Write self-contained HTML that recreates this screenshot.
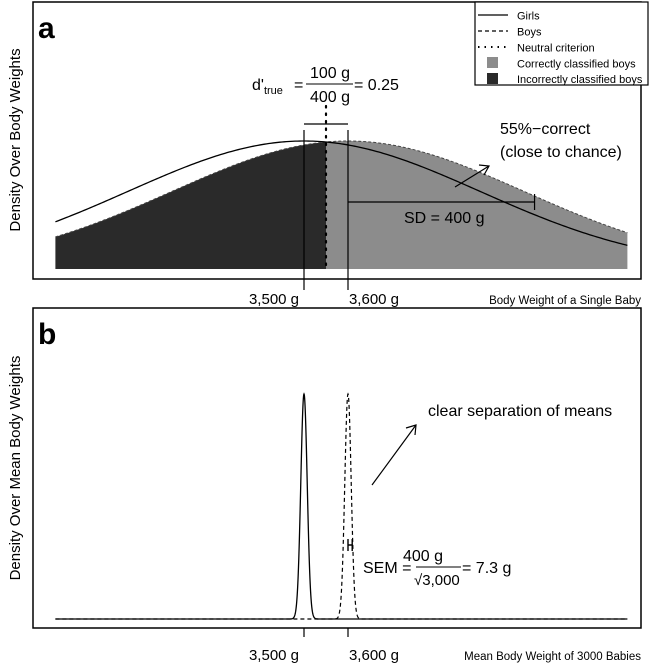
<!DOCTYPE html>
<html><head><meta charset="utf-8">
<style>
html,body{margin:0;padding:0;background:#fff;}
svg{display:block;font-family:"Liberation Sans",Arial,sans-serif;}
</style></head>
<body>
<svg id="chart" width="650" height="666" viewBox="0 0 650 666">
<g id="panelA">
  <rect x="33" y="2" width="608" height="277" fill="none" stroke="#000" stroke-width="1.5"/>
  <text x="38" y="38" font-size="30" font-weight="bold">a</text>
  <text transform="translate(20,140) rotate(-90)" text-anchor="middle" font-size="15">Density Over Body Weights</text>
  <g id="fillA"></g>
  <g id="curvesA"></g>
  <text x="274" y="304" text-anchor="middle" font-size="15">3,500 g</text>
  <text x="374" y="304" text-anchor="middle" font-size="15">3,600 g</text>
  <text x="641" y="304" text-anchor="end" font-size="11.5">Body Weight of a Single Baby</text>
  <g>
    <text x="252" y="90" font-size="16">d'<tspan font-size="11" dy="4">true</tspan></text>
    <text x="294" y="90" font-size="16">=</text>
    <text x="330" y="78" text-anchor="middle" font-size="16">100 g</text>
    <line x1="306" y1="84" x2="353" y2="84" stroke="#000" stroke-width="1"/>
    <text x="330" y="102" text-anchor="middle" font-size="16">400 g</text>
    <text x="354" y="90" font-size="16">= 0.25</text>
  </g>
  <text x="500" y="134" font-size="16">55%−correct</text>
  <text x="500" y="157" font-size="16">(close to chance)</text>
  <g stroke="#000" stroke-width="1.2" fill="none">
    <line x1="455" y1="187" x2="489" y2="166"/>
    <polyline points="479,165 489,166 484,175"/>
  </g>
  <text x="404" y="223" font-size="16">SD = 400 g</text>
  <g id="legend">
    <rect x="475" y="2" width="173" height="83" fill="#fff" stroke="#000" stroke-width="1.2"/>
    <line x1="478" y1="15" x2="508" y2="15" stroke="#000" stroke-width="1.2"/>
    <text x="517" y="19.5" font-size="11">Girls</text>
    <line x1="478" y1="31" x2="508" y2="31" stroke="#000" stroke-width="1.2" stroke-dasharray="4,3"/>
    <text x="517" y="35.5" font-size="11">Boys</text>
    <line x1="478" y1="47" x2="508" y2="47" stroke="#000" stroke-width="2" stroke-dasharray="1.5,5"/>
    <text x="517" y="51.5" font-size="11">Neutral criterion</text>
    <rect x="487" y="57" width="11" height="11" fill="#8c8c8c"/>
    <text x="517" y="67.5" font-size="11">Correctly classified boys</text>
    <rect x="487" y="73" width="11" height="11" fill="#2a2a2a"/>
    <text x="517" y="83" font-size="11">Incorrectly classified boys</text>
  </g>
</g>
<g id="panelB">
  <rect x="33" y="308" width="608" height="320" fill="none" stroke="#000" stroke-width="1.5"/>
  <text x="38" y="344" font-size="30" font-weight="bold">b</text>
  <text transform="translate(20,468) rotate(-90)" text-anchor="middle" font-size="15">Density Over Mean Body Weights</text>
  <g id="curvesB"></g>
  <text x="274" y="660" text-anchor="middle" font-size="15">3,500 g</text>
  <text x="374" y="660" text-anchor="middle" font-size="15">3,600 g</text>
  <text x="641" y="660" text-anchor="end" font-size="11.5">Mean Body Weight of 3000 Babies</text>
  <text x="428" y="416" font-size="16">clear separation of means</text>
  <g stroke="#000" stroke-width="1.2" fill="none">
    <line x1="372" y1="485" x2="416" y2="425"/>
    <polyline points="406,428 416,425 415,435"/>
  </g>
  <g>
    <text x="363" y="573" font-size="16">SEM =</text>
    <text x="423" y="561" text-anchor="middle" font-size="16">400 g</text>
    <line x1="416" y1="567" x2="461" y2="567" stroke="#000"/>
    <text x="414" y="585" font-size="15">√3,000</text>
    <text x="462" y="573" font-size="16">= 7.3 g</text>
  </g>
</g>
</svg>
<script>
const groupMeans = [3500, 3600];      // girls, boys (g)
const sdWeight = 400;                 // SD of single baby weight
const sampleSize = 3000;
const xRange = [2935, 4235];
const criterion = 3550;
const tickValues = [3500, 3600];

const NS = "http://www.w3.org/2000/svg";
function xs(v){ return 304 + (v - 3500) * 0.44; }
function gauss(v, m, s){ const z=(v-m)/s; return Math.exp(-z*z/2); }
function yA(d){ return 269 - d * 128; }
function yB(d){ return 619 - d * 225; }
function mk(tag, attrs, parent){ const e=document.createElementNS(NS,tag); for(const k in attrs) e.setAttribute(k,attrs[k]); parent.appendChild(e); return e; }

const fillA = document.getElementById('fillA');
const curvesA = document.getElementById('curvesA');
function areaPath(a, b){
  let d = `M${xs(a)},269`;
  for(let v=a; v<=b; v+=5) d += ` L${xs(v)},${yA(gauss(v,groupMeans[1],sdWeight))}`;
  d += ` L${xs(b)},${yA(gauss(b,groupMeans[1],sdWeight))} L${xs(b)},269 Z`;
  return d;
}
const incorrect = mk('path',{d:areaPath(xRange[0],criterion),fill:'#2a2a2a'},fillA);


const correct = mk('path',{d:areaPath(criterion,xRange[1]),fill:'#8c8c8c'},fillA);



function curvePath(m, s, yf, step){
  let d='';
  for(let v=xRange[0]; v<=xRange[1]; v+=step){
    d += (d?' L':'M') + xs(v).toFixed(2) + ',' + yf(gauss(v,m,s)).toFixed(2);
  }
  return d;
}
const boysA = mk('path',{d:curvePath(groupMeans[1],sdWeight,yA,5),fill:'none',stroke:'#444','stroke-width':1,'stroke-dasharray':'3,2'},curvesA);


const girlsA = mk('path',{d:curvePath(groupMeans[0],sdWeight,yA,5),fill:'none',stroke:'#000','stroke-width':1.3},curvesA);


tickValues.forEach((t,i)=>{
  const l = mk('line',{x1:xs(t),x2:xs(t),y1:130,y2:290,stroke:'#000','stroke-width':1.2},curvesA);
  
  
});
const dl = mk('line',{x1:xs(tickValues[0]),x2:xs(tickValues[1]),y1:124,y2:124,stroke:'#000','stroke-width':1.2},curvesA);


const crit = mk('line',{x1:xs(criterion),x2:xs(criterion),y1:106,y2:269,stroke:'#000','stroke-width':2.2,'stroke-dasharray':'1.5,6','stroke-linecap':'round'},curvesA);


const sdy = 202;
const sdEnd = xs(groupMeans[1]+sdWeight*1.06);
const sdl = mk('line',{x1:xs(groupMeans[1]),x2:sdEnd,y1:sdy,y2:sdy,stroke:'#000','stroke-width':1.2},curvesA);


const sdt = mk('line',{x1:sdEnd,x2:sdEnd,y1:sdy-8,y2:sdy+8,stroke:'#000','stroke-width':1.2},curvesA);



const curvesB = document.getElementById('curvesB');
const sem = sdWeight/Math.sqrt(sampleSize);
function curveB(m){
  let d='';
  for(let v=xRange[0]; v<=xRange[1]; v+=0.5){
    d += (d?' L':'M') + xs(v).toFixed(2) + ',' + yB(gauss(v,m,sem)).toFixed(2);
  }
  return d;
}
const gB = mk('path',{d:curveB(groupMeans[0]),fill:'none',stroke:'#000','stroke-width':1.3},curvesB);


const bB = mk('path',{d:curveB(groupMeans[1]),fill:'none',stroke:'#000','stroke-width':1.2,'stroke-dasharray':'4,3'},curvesB);


tickValues.forEach((t,i)=>{
  const l = mk('line',{x1:xs(t),x2:xs(t),y1:628,y2:637,stroke:'#000','stroke-width':1.2},curvesB);
  
  
});
const hx0 = xs(groupMeans[1]), hx1 = xs(groupMeans[1]+sem);
const h1 = mk('path',{d:`M${hx0},539 V551 M${hx1+1},539 V551 M${hx0},545 H${hx1+1}`,stroke:'#000','stroke-width':1.4,fill:'none'},curvesB);


</script>
</body></html>
